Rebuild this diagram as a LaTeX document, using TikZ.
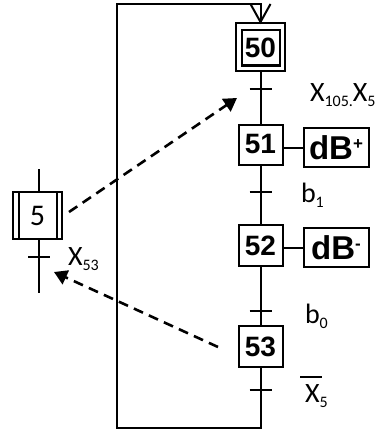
\documentclass[tikz,border=0pt]{standalone}
\usepackage{fontspec}
\setmainfont{Carlito}
\newfontfamily\arialfont{Liberation Sans}
\usetikzlibrary{arrows.meta}
\newcommand\sbs[1]{\raisebox{-5.5pt}{\fontsize{16}{16}\selectfont #1}}
\newcommand\sps[1]{\raisebox{10pt}{\fontsize{17}{17}\selectfont #1}}
\begin{document}
\begin{tikzpicture}[x=1pt,y=-1pt, line width=2pt,
  stepnum/.style={draw, minimum width=44pt, minimum height=40pt, inner sep=0pt, font=\arialfont\bfseries\fontsize{28}{28}\selectfont},
  act/.style={draw, minimum width=65pt, minimum height=39pt, inner sep=0pt, font=\arialfont\bfseries\fontsize{33}{33}\selectfont},
  lbl/.style={anchor=base west, inner sep=0pt, font=\fontsize{28}{28}\selectfont},
  dsh/.style={dash pattern=on 10pt off 6.5pt, line width=2.6pt, -{Triangle[length=13pt,width=15pt]}},
]
\useasboundingbox (0,0) rectangle (384,436);
% main steps
\node[draw, minimum width=49pt, minimum height=48pt, inner sep=0pt] (s50o) at (260.5,47) {};
\node[stepnum, minimum width=38pt, minimum height=35pt] (s50) at (260.5,48) {50};
\node[stepnum] (s51) at (260.5,144.5) {51};
\node[act] (a51) at (336,147.5) {dB\sps{+}};
\node[stepnum, minimum height=41pt] (s52) at (260.5,245.5) {52};
\node[act] (a52) at (336,247.5) {dB\sps{-}};
\node[stepnum, minimum height=41pt] (s53) at (260.5,346.5) {53};
% links
\draw (s50o.south) -- (s51.north);
\draw (s51.south) -- (s52.north);
\draw (s52.south) -- (s53.north);
\draw (s51.east |- a51.west) -- (a51.west);
\draw (s52.east |- a52.west) -- (a52.west);
\coordinate (bl) at (117,428);
\coordinate (tl) at (117,4);
\draw (s53.south) |- (bl) -- (tl) -| (s50o.north);
\draw ([shift={(-10,-18)}]s50o.north) -- (s50o.north) -- ([shift={(10,-18)}]s50o.north);
% transitions
\coordinate (t1) at (260.5,89);
\coordinate (t2) at (260.5,192);
\coordinate (t3) at (260.5,311);
\coordinate (t4) at (260.5,390);
\foreach \t in {t1,t2,t3,t4} \draw (\t) +(-11,0) -- +(11,0);
% labels
\node[lbl] (l1) at (309,101) {X\sbs{105.}X\sbs{5}};
\node[lbl] (l2) at (300,202) {b\sbs{1}};
\node[lbl] (l3) at (304,323) {b\sbs{0}};
\node[lbl] (l4) at (304,402) {X\sbs{5}};
\draw[line width=1.4pt] ([shift={(-4,-25)}]l4.base west) -- ++(22,0);
% left step 5
\node[draw, minimum width=49pt, minimum height=47pt, inner sep=0pt, font=\fontsize{30}{30}\selectfont] (s5) at (37.5,215.5) {5};
\draw ([xshift=7pt]s5.north west) -- ([xshift=7pt]s5.south west);
\draw ([xshift=-6pt]s5.north east) -- ([xshift=-6pt]s5.south east);
\coordinate (s5top) at (39,169);
\coordinate (s5bot) at (39,293);
\draw (s5top) -- (s5top |- s5.north);
\draw (s5bot |- s5.south) -- (s5bot);
\coordinate (t5) at (39,257);
\draw (t5) +(-11,0) -- +(11,0);
\node[lbl] (l5) at (67,265) {X\sbs{53}};
% dashed arrows
\coordinate (d1s) at (69,212);
\coordinate (d1e) at (237,98);
\draw[dsh] (d1s) -- (d1e);
\coordinate (d2s) at (218,347);
\coordinate (d2e) at (54,272);
\draw[dsh] (d2s) -- (d2e);
\end{tikzpicture}
\end{document}
